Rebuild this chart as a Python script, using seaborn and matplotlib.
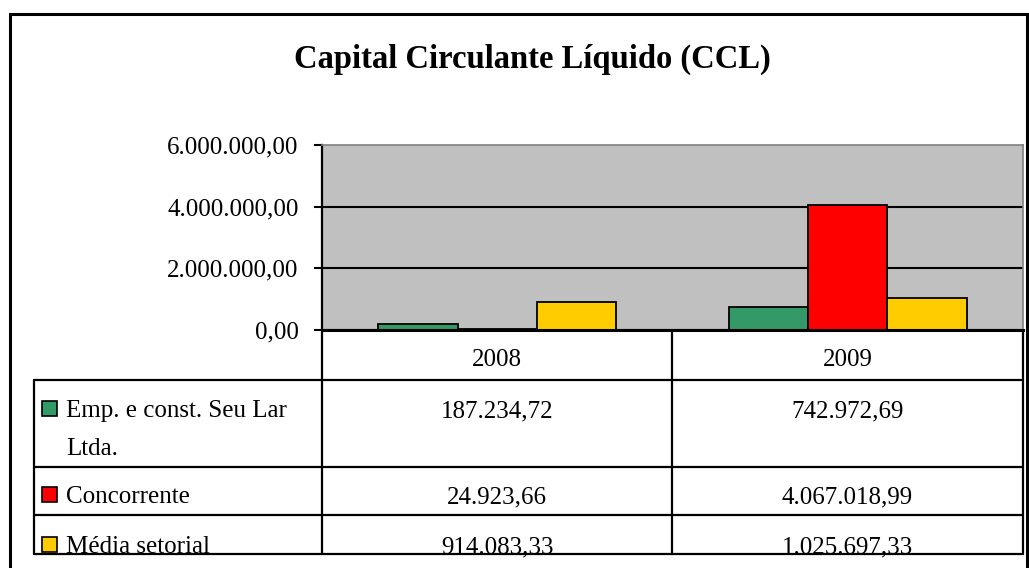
import numpy as np
import pandas as pd
import matplotlib
matplotlib.use("Agg")
import matplotlib.pyplot as plt
from matplotlib.patches import Rectangle
from matplotlib.ticker import FuncFormatter
import seaborn as sns

# data
years = ["2008", "2009"]
series = ["Emp. e const. Seu Lar Ltda.", "Concorrente", "Média setorial"]
seu_lar = [187234.72, 742972.69]
concorrente = [24923.66, 4067018.99]
media_setorial = [914083.33, 1025697.33]
colors = ["#339966", "#FF0000", "#FFCC00"]
yticks = [0, 2000000, 4000000, 6000000]

def br(v):
    # brazilian number format 1.234,56
    s = f"{v:,.2f}"
    return s.replace(",", "X").replace(".", ",").replace("X", ".")

rows = []
for name, vals in zip(series, [seu_lar, concorrente, media_setorial]):
    for y, v in zip(years, vals):
        rows.append({"ano": y, "serie": name, "valor": v})
df = pd.DataFrame(rows)

sns.set_style("white")
plt.rcParams["font.family"] = ["Liberation Serif", "DejaVu Serif"]
plt.rcParams["text.color"] = "black"
plt.rcParams["xtick.color"] = "black"
plt.rcParams["ytick.color"] = "black"

W, H = 1029, 568
fig = plt.figure(figsize=(W / 100, H / 100), dpi=100)

# background layer in pixel coords (frame, title, table)
bg = fig.add_axes([0, 0, 1, 1], zorder=0)
bg.set_xlim(0, W)
bg.set_ylim(H, 0)
bg.axis("off")

# outer frame
bg.plot([10, 10, 1027, 1027], [H + 5, 14, 14, H + 5], color="black", lw=2.2,
        solid_joinstyle="miter", clip_on=False)

bg.text(532, 68, "Capital Circulante Líquido (CCL)", fontsize=23.5, fontweight="bold",
        ha="center", va="baseline")

# plot area
L, R, T, B = 322, 1023, 145, 330
ax = fig.add_axes([L / W, 1 - B / H, (R - L) / W, (B - T) / H], zorder=2)
sns.barplot(data=df, x="ano", y="valor", hue="serie", order=years, hue_order=series,
            palette=colors, width=0.68, edgecolor="black", linewidth=1.3,
            saturation=1, ax=ax, legend=False)
ax.set_facecolor("#C0C0C0")
ax.set_xlim(-0.5, 1.5)
ax.set_ylim(0, 6000000)
ax.set_yticks(yticks)
ax.yaxis.set_major_formatter(FuncFormatter(lambda v, p: br(v)))
ax.yaxis.grid(True, color="black", lw=1.5)
ax.set_axisbelow(True)
ax.get_ygridlines()[-1].set_visible(False)
ax.set_xlabel("")
ax.set_ylabel("")
ax.tick_params(axis="y", left=True, length=6, width=1.5, color="black",
               labelcolor="black", labelsize=18, pad=11)
ax.tick_params(axis="x", bottom=False, length=0, labelcolor="black", labelsize=18, pad=14)
ax.spines["left"].set_color("black")
ax.spines["left"].set_linewidth(1.6)
ax.spines["bottom"].set_color("black")
ax.spines["bottom"].set_linewidth(2.2)
for s in ["top", "right"]:
    ax.spines[s].set_color("#808080")
    ax.spines[s].set_linewidth(1.2)

# data table
lc = dict(color="black", lw=1.6)
row_lines = [380, 467, 515, 554]
for y in row_lines:
    bg.plot([34, R], [y, y], **lc)
bg.plot([34, 34], [380, 554], **lc)
for x in [L, 672, R]:
    bg.plot([x, x], [B, 554], **lc)

col_centers = [(L + 672) / 2, (672 + R) / 2]
label_lines = [["Emp. e const. Seu Lar", "Ltda."], ["Concorrente"], ["Média setorial"]]
baselines = [417, 503, 553]
fs = 18
for i, (lines, vals) in enumerate(zip(label_lines, [seu_lar, concorrente, media_setorial])):
    b = baselines[i]
    bg.add_patch(Rectangle((42, b - 16), 15, 15, facecolor=colors[i],
                           edgecolor="black", lw=1.2))
    for j, t in enumerate(lines):
        bg.text(66, b + j * 38, t, fontsize=fs, ha="left", va="baseline")
    for cx, v in zip(col_centers, vals):
        bg.text(cx, b, br(v), fontsize=fs, ha="center", va="baseline")

fig.savefig("out.png", dpi=100)
